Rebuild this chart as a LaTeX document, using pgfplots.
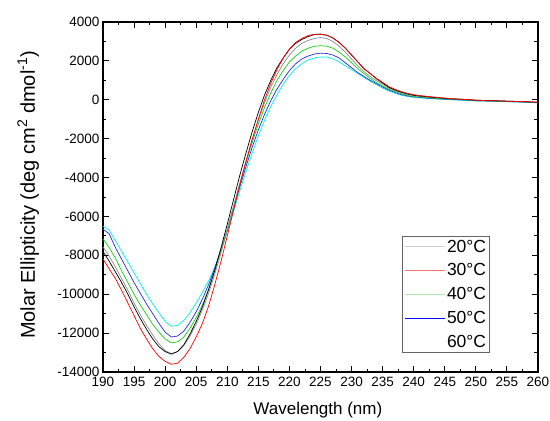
\documentclass[border=0pt]{standalone}
\usepackage{fontspec}
\setmainfont{Liberation Sans}
\usepackage{pgfplots}
\pgfplotsset{compat=1.18}
\usepackage{pgfplotstable}
\definecolor{ccyan}{RGB}{0,240,240}
\definecolor{cblue}{RGB}{40,40,220}
\definecolor{cgreen}{RGB}{20,210,20}
\definecolor{cgray}{RGB}{140,140,140}
\definecolor{cred}{RGB}{255,0,0}
\definecolor{lgray}{RGB}{205,205,205}
\definecolor{lgreen}{RGB}{175,235,175}
\definecolor{lred}{RGB}{255,110,110}
\definecolor{legframe}{RGB}{100,100,100}
\pgfplotstableread{
x c b g gr k r
190 -6500 -6650 -7160 -7570 -7800 -8190
191 -6700 -6900 -7600 -8050 -8300 -8700
192 -7250 -7600 -8150 -8600 -8850 -9200
193 -7800 -8200 -8800 -9200 -9400 -9800
194 -8350 -8800 -9400 -9800 -10000 -10450
195 -8900 -9400 -10000 -10450 -10650 -11100
196 -9450 -9950 -10550 -11050 -11250 -11750
197 -10000 -10500 -11050 -11600 -11800 -12300
198 -10500 -11000 -11550 -12100 -12300 -12800
199 -10950 -11500 -11950 -12550 -12700 -13200
200 -11400 -11950 -12300 -12900 -12950 -13450
201 -11650 -12200 -12500 -13050 -13080 -13600
202 -11600 -12150 -12450 -12950 -12950 -13550
203 -11350 -11900 -12200 -12650 -12600 -13250
204 -10950 -11450 -11750 -12150 -12050 -12800
205 -10450 -10900 -11200 -11550 -11400 -12200
206 -9900 -10250 -10550 -10800 -10650 -11500
207 -9300 -9500 -9750 -9950 -9750 -10600
208 -8600 -8650 -8800 -8950 -8750 -9500
209 -7750 -7700 -7750 -7850 -7600 -8300
210 -6800 -6700 -6650 -6700 -6400 -7000
211 -5750 -5600 -5500 -5500 -5150 -5700
212 -4700 -4500 -4350 -4300 -3900 -4400
213 -3700 -3450 -3250 -3150 -2750 -3200
214 -2750 -2450 -2200 -2050 -1650 -2050
215 -1850 -1550 -1250 -1050 -650 -1000
216 -1050 -750 -400 -150 250 0
217 -350 -50 350 650 1000 850
218 250 550 1000 1300 1650 1550
219 800 1050 1500 1850 2150 2150
220 1250 1500 1950 2300 2600 2600
221 1600 1850 2250 2650 2900 2950
222 1850 2100 2500 2900 3100 3150
223 2050 2250 2650 3050 3250 3300
224 2150 2350 2750 3150 3350 3370
225 2200 2400 2780 3200 3380 3370
226 2200 2380 2760 3150 3320 3320
227 2100 2300 2650 3000 3180 3180
228 1950 2150 2450 2750 2950 2950
229 1750 1900 2200 2450 2650 2650
230 1550 1650 1900 2100 2300 2300
231 1350 1400 1600 1750 1950 1950
232 1150 1200 1350 1450 1600 1600
233 950 1000 1100 1200 1350 1350
234 780 830 880 980 1080 1100
235 600 660 710 800 860 900
236 450 500 540 600 640 680
237 340 380 420 470 500 540
238 230 270 310 360 390 420
239 170 200 230 270 300 330
240 120 150 170 210 230 260
242 70 90 110 140 160 180
244 30 50 60 80 100 120
246 0 20 30 50 50 60
248 -30 -10 0 10 20 20
250 -60 -50 -40 -30 -20 -20
252 -70 -60 -60 -50 -40 -50
254 -90 -80 -70 -70 -60 -60
256 -110 -100 -90 -90 -80 -80
258 -130 -120 -110 -110 -100 -100
260 -160 -150 -140 -140 -130 -120
}\cd
\begin{document}
\begin{tikzpicture}
\begin{axis}[
  scale only axis, width=435pt, height=350pt,
  xmin=190, xmax=260, ymin=-14000, ymax=4000,
  xtick={190,195,...,260}, minor x tick num=1,
  ytick={-14000,-12000,...,4000}, minor y tick num=1,
  tick align=inside, major tick length=6pt, minor tick length=3.5pt,
  axis line style={line width=1.1pt},
  tick style={black, line width=0.9pt},
  ticklabel style={font=\fontsize{13.5}{15}\selectfont},
  xticklabel style={yshift=-1.5pt},
  /pgf/number format/assume math mode=true,
  /pgf/number format/1000 sep={},
  scaled ticks=false,
  xlabel={Wavelength (nm)},
  ylabel={Molar Ellipticity (deg cm\textsuperscript{2} dmol\textsuperscript{-1})},
  xlabel style={font=\fontsize{17}{19}\selectfont, at={(axis description cs:0.494,-0.108)}, anchor=center},
  ylabel style={font=\fontsize{20}{22}\selectfont, at={(axis description cs:-0.172,0.506)}, anchor=center},
  legend style={at={(axis description cs:0.8897,0.0543)}, anchor=south east,
    draw=legframe, line width=0.8pt, font=\fontsize{17.5}{19}\selectfont,
    inner xsep=2pt, inner ysep=2.5pt, nodes={inner sep=1.5pt}, row sep=7pt},
  legend cell align=left,
  every axis plot/.append style={line width=0.7pt},
]
\addplot[ccyan, forget plot] table[x=x,y=c]{\cd};
\addplot[cblue, forget plot] table[x=x,y=b]{\cd};
\addplot[cgreen, forget plot] table[x=x,y=g]{\cd};
\addplot[cgray, forget plot] table[x=x,y=gr]{\cd};
\addplot[black, forget plot] table[x=x,y=k]{\cd};
\addplot[cred, forget plot] table[x=x,y=r]{\cd};
\addlegendimage{legend image code/.code={\draw[draw=lgray,line width=1pt] (0pt,0pt) -- (40pt,0pt);}}
\addlegendentry{20°C}
\addlegendimage{legend image code/.code={\draw[draw=lred,line width=1pt] (0pt,0pt) -- (40pt,0pt);}}
\addlegendentry{30°C}
\addlegendimage{legend image code/.code={\draw[draw=lgreen,line width=1pt] (0pt,0pt) -- (40pt,0pt);}}
\addlegendentry{40°C}
\addlegendimage{legend image code/.code={\draw[draw=blue,line width=0.8pt] (0pt,0pt) -- (40pt,0pt);}}
\addlegendentry{50°C}
\addlegendimage{legend image code/.code={\path[draw=none] (0pt,0pt) -- (40pt,0pt);}}
\addlegendentry{60°C}
\coordinate (bl) at (rel axis cs:0,0);
\end{axis}
\pgfresetboundingbox
\path[use as bounding box] ([shift={(-103pt,-49pt)}]bl) rectangle ([shift={(447pt,372pt)}]bl);
\end{tikzpicture}
\end{document}
